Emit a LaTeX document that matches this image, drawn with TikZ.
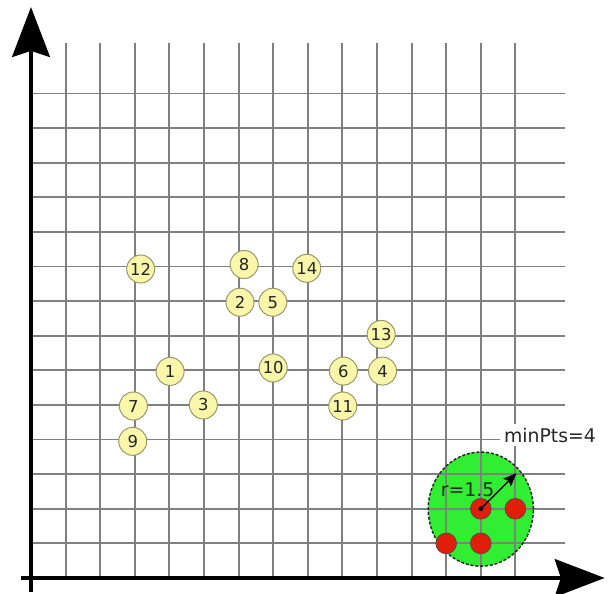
\documentclass[tikz,border=0pt]{standalone}
\usepackage{fontspec}
\setmainfont{DejaVu Sans}
\usetikzlibrary{arrows.meta}
\definecolor{ptfill}{RGB}{250,246,170}
\definecolor{ptdraw}{RGB}{150,150,105}
\definecolor{regiongreen}{RGB}{50,238,50}
\definecolor{corered}{RGB}{225,30,10}
\tikzset{
  pt/.style={circle, fill=ptfill, draw=ptdraw, line width=0.8pt, minimum size=0.81cm, inner sep=0pt, text=black!85, font=\fontsize{13.5}{13.5}\selectfont},
  gridline/.style={draw=black!50, line width=1.5pt},
  axisline/.style={line width=3.3pt, -{Stealth[length=41pt, width=31pt, inset=5pt]}},
  corept/.style={circle, fill=corered, draw=black!70, line width=0.6pt, minimum size=0.6cm, inner sep=0pt},
  lbl/.style={font=\fontsize{15.5}{15.5}\selectfont, inner sep=1pt, text=black!85}
}
\begin{document}
\begin{tikzpicture}
\useasboundingbox (-0.896,-0.462) rectangle (16.705,16.705);
% eps-neighbourhood fill
\fill[regiongreen] (13,1.99) ellipse [x radius=1.52cm, y radius=1.65cm];
% grid
\foreach \k in {1,...,14} {
  \draw[gridline] (\k,0) -- (\k,15.45);
  \draw[gridline] (0,\k) -- (15.43,\k);
}
% neighbourhood border
\draw[black!85, line width=1.2pt, dash pattern=on 2.5pt off 1.5pt] (13,1.99) ellipse [x radius=1.52cm, y radius=1.65cm];
% axes
\coordinate (ystart) at (0,-0.4);
\coordinate (yend) at (0,16.5);
\coordinate (xstart) at (-0.3,0);
\coordinate (xend) at (16.58,0);
\draw[axisline] (ystart) -- (yend);
\draw[axisline] (xstart) -- (xend);
% points
\node[pt] (p12) at (3.17,8.93) {12};
\node[pt] (p8) at (6.16,9.06) {8};
\node[pt] (p14) at (7.97,8.95) {14};
\node[pt] (p2) at (6.04,7.97) {2};
\node[pt] (p5) at (6.99,7.97) {5};
\node[pt] (p13) at (10.12,7.04) {13};
\node[pt] (p6) at (9.03,5.98) {6};
\node[pt] (p4) at (10.16,5.98) {4};
\node[pt] (p11) at (9.01,4.97) {11};
\node[pt] (p1) at (4.02,5.97) {1};
\node[pt] (p10) at (7.0,6.07) {10};
\node[pt] (p7) at (2.96,4.97) {7};
\node[pt] (p3) at (4.98,5.0) {3};
\node[pt] (p9) at (2.94,3.95) {9};
% core points
\node[corept] (c1) at (13,2) {};
\node[corept] (c2) at (14,2) {};
\node[corept] (c3) at (12,1) {};
\node[corept] (c4) at (13,1) {};
\node[circle, fill=black, minimum size=0.14cm, inner sep=0pt] (ctr) at (13,2) {};
\coordinate (rtip) at (14.03,3.03);
\draw[line width=1.1pt, -{Stealth[length=11pt, width=9pt, inset=2pt]}] (ctr.center) -- (rtip);
\node[lbl] (rlabel) at (12.62,2.56) {r=1.5};
\node[lbl, fill=white, inner sep=3pt] (minpts) at (15.0,4.12) {minPts=4};
\end{tikzpicture}
\end{document}
